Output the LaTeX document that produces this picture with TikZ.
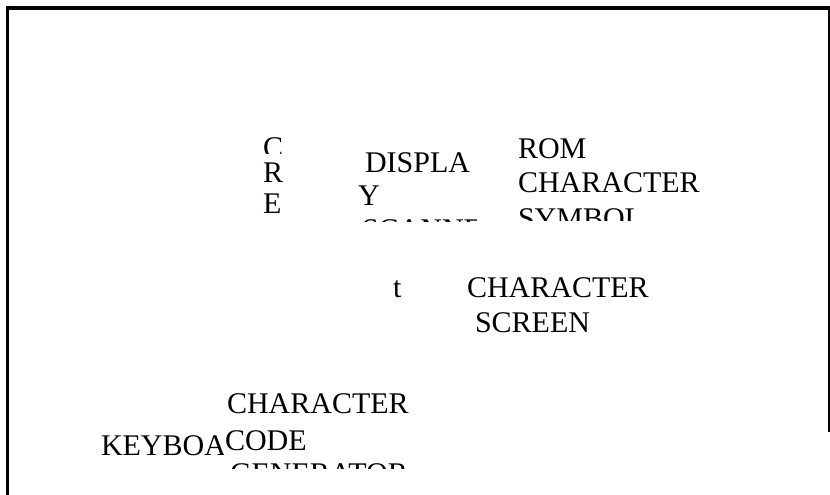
\documentclass[tikz,border=0pt]{standalone}
\usepackage{fontspec}
\setmainfont{Liberation Serif}
\begin{document}
\begin{tikzpicture}[x=1pt,y=-1pt,
  lbl/.style={anchor=base west, inner sep=0pt, outer sep=0pt, font=\fontsize{30}{30}\selectfont}]
\useasboundingbox (0,0) rectangle (830,495);
% frame
\draw[line width=4pt] (6,8) -- (830,8);
\draw[line width=3pt] (7.5,6) -- (7.5,495);
\draw[line width=2pt] (829,8) -- (829,432);
% CRT column
\begin{scope}
  \clip (250,120) rectangle (300,153);
  \node[lbl] (crtC) at (263,157) {C};
\end{scope}
\node[lbl] (crtR) at (263,182) {R};
\node[lbl] (crtE) at (263,213) {E};
% display scanner
\begin{scope}
  \clip (340,120) rectangle (476,221);
  \node[lbl] (dispA) at (365,172) {DISPLA};
  \node[lbl] (dispB) at (358,205) {Y};
  \node[lbl] (dispC) at (362,239) {SCANNER};
\end{scope}
% ROM block
\begin{scope}
  \clip (510,120) rectangle (720,220);
  \node[lbl] (romA) at (518,158) {ROM};
  \node[lbl] (romB) at (518,192) {CHARACTER};
  \node[lbl] (romC) at (518,228) {SYMBOL};
\end{scope}
% screen
\node[lbl] (tee) at (393,297) {t};
\node[lbl] (scrA) at (467,297) {CHARACTER};
\node[lbl] (scrB) at (475,332) {SCREEN};
% keyboard
\begin{scope}
  \clip (90,420) rectangle (223,470);
  \node[lbl] (kbd) at (101,455) {KEYBOARD};
\end{scope}
% code generator
\node[lbl] (genA) at (227,413) {CHARACTER};
\node[lbl] (genB) at (225,450) {CODE};
\begin{scope}
  \clip (220,455) rectangle (420,468);
  \node[lbl] (genC) at (230,483) {GENERATOR};
\end{scope}
\end{tikzpicture}
\end{document}
